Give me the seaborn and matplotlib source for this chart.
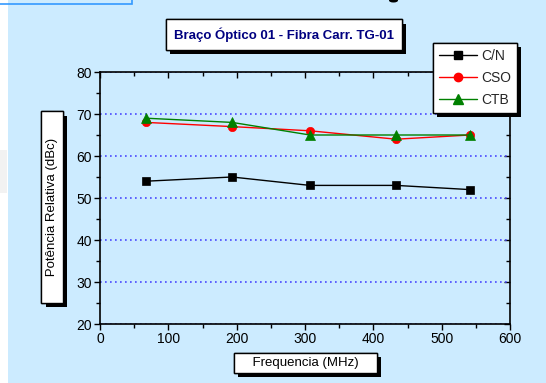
import matplotlib
matplotlib.use("Agg")
import matplotlib.pyplot as plt
import seaborn as sns
import pandas as pd
from matplotlib.ticker import MultipleLocator
from matplotlib.patches import Rectangle, Ellipse
import matplotlib.patheffects as pe

# ---- data ----
freq = [67.25, 193.25, 307.25, 433.25, 541.25]
cn = [54, 55, 53, 53, 52]
cso = [68, 67, 66, 64, 65]
ctb = [69, 68, 65, 65, 65]
series_names = ["C/N", "CSO", "CTB"]
title = "Braço Óptico 01 - Fibra Carr. TG-01"
xlabel = "Frequencia (MHz)"
ylabel = "Potência Relativa (dBc)"

df = pd.DataFrame({
    "freq": freq * 3,
    "val": cn + cso + ctb,
    "serie": [s for s in series_names for _ in freq],
})

sns.set_theme(style="white")
plt.rcParams["font.family"] = ["Liberation Sans", "DejaVu Sans"]

BG = "#CCEBFF"
W, H = 546, 383
fig = plt.figure(figsize=(W / 100, H / 100), dpi=100, facecolor=BG)

# decorative figure elements
fig.patches.append(Rectangle((0, 0), 8 / W, 1, transform=fig.transFigure,
                             facecolor="white", edgecolor="none", zorder=-5))
fig.patches.append(Rectangle((0, 1 - 193 / H), 7 / W, 43 / H, transform=fig.transFigure,
                             facecolor="#f2f2f2", edgecolor="none", zorder=-4))
fig.patches.append(Rectangle((-5 / W, 1 - 3.5 / H), 137 / W, 10 / H, transform=fig.transFigure,
                             facecolor="none", edgecolor="#3399ff", lw=1.2, zorder=-3))
fig.patches.append(Ellipse((393.5 / W, 1 - 0.5 / H), 9 / W, 4 / H, transform=fig.transFigure,
                           facecolor="black", edgecolor="none", zorder=-3))

ax = fig.add_axes([100 / W, 1 - 324 / H, 410 / W, 252 / H])
ax.set_facecolor("none")

palette = {"C/N": "black", "CSO": "#ff0000", "CTB": "#008000"}
markers = {"C/N": "s", "CSO": "o", "CTB": "^"}
sns.lineplot(data=df, x="freq", y="val", hue="serie", style="serie",
             palette=palette, markers=markers, dashes=False, ax=ax,
             linewidth=1.0, markersize=6, markeredgewidth=0.5, legend=False)
for line, name in zip(ax.lines, series_names):
    line.set_markeredgecolor(palette[name])
    if name == "CTB":
        line.set_markersize(7)

ax.set_xlim(0, 600)
ax.set_ylim(20, 80)
ax.xaxis.set_major_locator(MultipleLocator(100))
ax.xaxis.set_minor_locator(MultipleLocator(50))
ax.yaxis.set_major_locator(MultipleLocator(10))
ax.yaxis.set_minor_locator(MultipleLocator(5))
ax.set_xlabel("")
ax.set_ylabel("")

ax.grid(axis="y", which="major", color="#4848ff", linestyle=(0, (1, 2)), linewidth=1.2)
ax.grid(axis="x", visible=False)
ax.set_axisbelow(True)

for s in ax.spines.values():
    s.set_visible(True)
    s.set_color("black")
    s.set_linewidth(1.2)

ax.tick_params(which="both", direction="out", color="black", width=1.0,
               bottom=True, left=True, top=False, right=False,
               labelsize=10, labelcolor="black", pad=2)
ax.tick_params(which="major", length=4)
ax.tick_params(which="minor", length=3)

secx = ax.secondary_xaxis("top")
secx.xaxis.set_major_locator(MultipleLocator(100))
secx.xaxis.set_minor_locator(MultipleLocator(50))
secx.tick_params(which="both", direction="in", labeltop=False, width=1.0, color="black")
secx.tick_params(which="major", length=4)
secx.tick_params(which="minor", length=3)
secy = ax.secondary_yaxis("right")
secy.yaxis.set_major_locator(MultipleLocator(10))
secy.yaxis.set_minor_locator(MultipleLocator(5))
secy.tick_params(which="both", direction="in", labelright=False, width=1.0, color="black")
secy.tick_params(which="major", length=4)
secy.tick_params(which="minor", length=3)
for sa in (secx, secy):
    for s in sa.spines.values():
        s.set_visible(False)

shadow = [pe.withSimplePatchShadow(offset=(3, -3), shadow_rgbFace="black", alpha=1.0), pe.Normal()]

# title box
t = fig.text(284 / W, 1 - 34.5 / H, title, ha="center", va="center",
             fontsize=9.5, fontweight="bold", color="#000080",
             family=["Liberation Sans Narrow", "Liberation Sans", "DejaVu Sans"],
             bbox=dict(boxstyle="square,pad=0.6", facecolor="white", edgecolor="black", lw=1))
t.get_bbox_patch().set_path_effects(shadow)

# axis label boxes
xl = fig.text(305.5 / W, 1 - 363 / H, "    " + xlabel + "    ", ha="center", va="center",
              fontsize=9.5, color="black",
              bbox=dict(boxstyle="square,pad=0.32", facecolor="white", edgecolor="black", lw=1))
xl.get_bbox_patch().set_path_effects(shadow)
yl = fig.text(52 / W, 1 - 207 / H, "      " + ylabel + "      ", ha="center", va="center",
              rotation=90, fontsize=9.5, color="black",
              bbox=dict(boxstyle="square,pad=0.35", facecolor="white", edgecolor="black", lw=1))
yl.get_bbox_patch().set_path_effects(shadow)

# legend
handles = [plt.Line2D([], [], color=palette[n], marker=markers[n], lw=1.0,
                      markersize=6 if n != "CTB" else 7,
                      markeredgecolor=palette[n]) for n in series_names]
leg = ax.legend(handles, series_names, loc="upper right",
                bbox_to_anchor=(517 / W, 1 - 43 / H), bbox_transform=fig.transFigure,
                fontsize=10, frameon=True, fancybox=False, framealpha=1,
                edgecolor="black", facecolor="white", handlelength=2.7,
                handletextpad=0.3, borderpad=0.45, labelspacing=0.55,
                borderaxespad=0)
leg.get_frame().set_linewidth(1.0)
leg.get_frame().set_path_effects(shadow)
leg.set_zorder(10)

fig.savefig("out.png", dpi=100, facecolor=BG)
